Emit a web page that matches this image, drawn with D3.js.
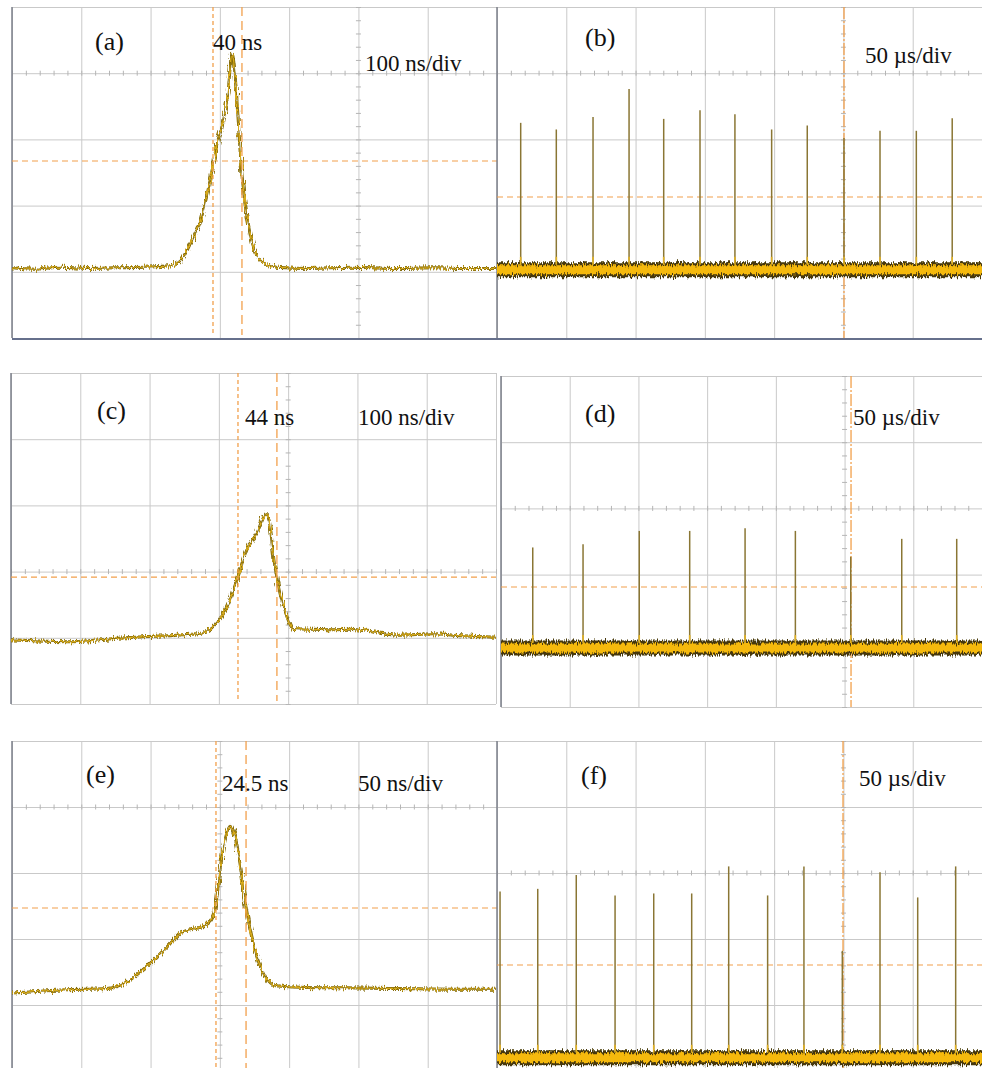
<!DOCTYPE html>
<html><head><meta charset="utf-8">
<script src="https://cdn.jsdelivr.net/npm/d3@7"></script>
<style>body{margin:0;background:#fff}svg{display:block}</style>
</head><body>
<svg id="chart" width="982" height="1068"></svg>
<script>
// ---------------- DATA ----------------
const panelLabels = ["(a)", "(b)", "(c)", "(d)", "(e)", "(f)"];
const widthLabels = ["40 ns", "44 ns", "24.5 ns"];
const scaleLabels = ["100 ns/div", "50 µs/div", "100 ns/div", "50 µs/div", "50 ns/div", "50 µs/div"];
const timePerDiv = [100, 50, 100, 50, 50, 50]; // ns or µs per division

// single pulses: [time (ns), amplitude (div)]
const pulseA = [[0,1.06],[30,1.04],[70,1.07],[110,1.05],[150,1.06],[190,1.07],[228,1.09],[246.8,1.22],[259.8,1.48],[271.3,1.74],[285.8,2.39],[297.3,2.99],[303.1,3.19],[311.7,3.70],[317.5,4.30],[321.8,4.00],[326.2,3.34],[330.5,2.64],[336.3,2.04],[343.5,1.59],[357.9,1.18],[382.4,1.07],[430,1.05],[490,1.07],[550,1.05],[610,1.06],[660,1.05],[700,1.05]];
const pulseC = [[0,0.97],[40,0.95],[80.8,0.94],[140,0.98],[196.2,1.02],[240,1.04],[272.7,1.07],[291.5,1.17],[311.7,1.47],[327.6,1.92],[340.5,2.33],[355,2.58],[368,2.87],[372.3,2.78],[381,2.07],[388.3,1.67],[398.3,1.32],[406.9,1.14],[430,1.13],[464.6,1.12],[489.2,1.13],[520,1.09],[561.3,1.04],[609,1.06],[650,1.03],[700,1.01]];
const pulseE = [[0,1.18],[39.7,1.23],[68.6,1.25],[83,1.35],[99.6,1.63],[111.9,1.88],[123.4,2.11],[133.5,2.16],[142.9,2.26],[146.5,2.44],[150.1,3.05],[153.7,3.50],[157.3,3.71],[160.9,3.55],[164.5,3.15],[168.9,2.49],[174.1,1.93],[181.3,1.48],[188.6,1.30],[207.8,1.27],[240,1.26],[280,1.25],[320,1.24],[350,1.24]];

// pulse trains: spike times (µs), spike peaks (div), baseline (div)
const trainB_t = [17.1,42.8,69.3,95.3,120.3,146.5,171.7,198.2,223.9,250.4,276.4,302.6,328.5];
const trainB_h = [3.25,3.15,3.34,3.76,3.31,3.44,3.38,3.15,3.21,3.02,3.13,3.13,3.32];
const trainD_t = [23.1,59.7,100.6,137.3,177.6,214.2,254.5,291.6,331.6];
const trainD_h = [2.41,2.46,2.66,2.66,2.70,2.66,2.27,2.54,2.54];
const trainF_t = [2.2,29.4,57.2,85.2,113.1,140.5,167.2,195.3,221.5,249.2,276.4,303.6,331.0];
const trainF_h = [2.72,2.76,2.97,2.66,2.69,2.69,3.10,2.66,3.10,1.82,3.01,2.63,3.10];
const trainBase = [1.03, 0.89, 0.20];

// cursors: vertical (time), horizontal (div)
const cursorV = [[290.1, 331.9], [250.4], [327.6, 383.8], [254.7], [147.2, 168.9], [249.7]];
const cursorH = [2.674, 2.13, 1.918, 1.813, 2.47, 1.606];

// ---------------- LAYOUT ----------------
const layout = [
  {x0:12,  x1:497, y0:7,   y1:338,  ax:5, ay:4, lab:[95,50],  wl:[213,50],  sl:[365,71],  darkBottom:true},
  {x0:497, x1:982, y0:7,   y1:338,  ax:5, ay:4, lab:[585,46], sl:[865,63],  darkBottom:true},
  {x0:11,  x1:496, y0:373, y1:704,  ax:4, ay:2, lab:[97,419], wl:[245,425], sl:[358,425]},
  {x0:501, x1:982, y0:376, y1:707,  ax:5, ay:3, lab:[585,422], sl:[853,425]},
  {x0:12,  x1:497, y0:741, y1:1071, ax:3, ay:4, lab:[86,783], wl:[222,791], sl:[358,791]},
  {x0:497, x1:982, y0:741, y1:1071, ax:5, ay:3, lab:[581,784], sl:[859,786]}
];
const pulses = {0: pulseA, 2: pulseC, 4: pulseE};
const trains = {1: [trainB_t, trainB_h, trainBase[0]], 3: [trainD_t, trainD_h, trainBase[1]], 5: [trainF_t, trainF_h, trainBase[2]]};
const widthIdx = {0:0, 2:1, 4:2};

const svg = d3.select("#chart");
const defs = svg.append("defs");
function noiseFilter(id, freq, seed, scale) {
  const f = defs.append("filter").attr("id", id).attr("filterUnits","userSpaceOnUse")
    .attr("x",0).attr("y",0).attr("width",982).attr("height",1068);
  f.append("feTurbulence").attr("type","fractalNoise").attr("baseFrequency",freq).attr("numOctaves",2).attr("seed",seed).attr("result","t");
  f.append("feDisplacementMap").attr("in","SourceGraphic").attr("in2","t").attr("scale",scale)
    .attr("xChannelSelector","R").attr("yChannelSelector","G");
}
noiseFilter("noise", "0.9 0.08", 4, 7);
noiseFilter("noise2", "0.8 0.12", 9, 8);

const ORANGE = "#f2a04c";
const SERIF = "'Liberation Serif','Times New Roman',serif";

layout.forEach((L, i) => {
  const nx = 7, ny = 5;
  const x = d3.scaleLinear().domain([0, nx * timePerDiv[i]]).range([L.x0, L.x1]);
  const y = d3.scaleLinear().domain([0, ny]).range([L.y1, L.y0]);
  const g = svg.append("g");
  const cid = "clip" + i;
  defs.append("clipPath").attr("id", cid).append("rect")
    .attr("x", L.x0).attr("y", L.y0).attr("width", L.x1 - L.x0).attr("height", L.y1 - L.y0);

  // grid via axes
  const majorX = d3.range(nx + 1).map(k => k * timePerDiv[i]);
  const majorY = d3.range(ny + 1);
  const gx = g.append("g").attr("transform", `translate(0,${L.y0})`)
    .call(d3.axisBottom(x).tickValues(majorX).tickSize(L.y1 - L.y0).tickFormat(""));
  const gy = g.append("g").attr("transform", `translate(${L.x0},0)`)
    .call(d3.axisRight(y).tickValues(majorY).tickSize(L.x1 - L.x0).tickFormat(""));
  [gx, gy].forEach(a => { a.select(".domain").remove(); a.selectAll("line").attr("stroke", "#c9c9c9").attr("stroke-width", 1); });

  // minor ticks on centre axes
  const minorX = d3.range(0, nx * 5 + 1).map(k => k * timePerDiv[i] / 5);
  const minorY = d3.range(0, ny * 5 + 1).map(k => k / 5);
  const tx = g.append("g").attr("transform", `translate(0,${y(L.ay) - 2.5})`)
    .call(d3.axisBottom(x).tickValues(minorX).tickSize(5).tickFormat(""));
  const ty = g.append("g").attr("transform", `translate(${x(L.ax * timePerDiv[i]) - 2.5},0)`)
    .call(d3.axisRight(y).tickValues(minorY).tickSize(5).tickFormat(""));
  [tx, ty].forEach(a => { a.select(".domain").remove(); a.selectAll("line").attr("stroke", "#b5b5b5").attr("stroke-width", 1); });

  // borders
  g.append("line").attr("x1", L.x0).attr("x2", L.x0).attr("y1", L.y0).attr("y2", L.y1)
    .attr("stroke", "#7b7f8a").attr("stroke-width", 1.5);
  if (L.darkBottom) g.append("line").attr("x1", L.x0).attr("x2", L.x1).attr("y1", L.y1 + 1).attr("y2", L.y1 + 1)
    .attr("stroke", "#66708c").attr("stroke-width", 2);

  const plot = g.append("g").attr("clip-path", `url(#${cid})`);

  // horizontal cursor
  plot.append("line").attr("x1", L.x0).attr("x2", L.x1).attr("y1", y(cursorH[i])).attr("y2", y(cursorH[i]))
    .attr("stroke", ORANGE).attr("stroke-width", 1.2).attr("stroke-dasharray", "6,4");

  if (pulses[i]) {
    const line = d3.line().x(d => x(d[0])).y(d => y(d[1])).curve(d3.curveMonotoneX);
    const tg = plot.append("g").attr("filter", "url(#noise)");
    tg.append("path").datum(pulses[i]).attr("d", line).attr("fill", "none")
      .attr("stroke", "#7d6608").attr("stroke-width", 3);
    tg.append("path").datum(pulses[i]).attr("d", line).attr("fill", "none")
      .attr("stroke", "#d9ac1e").attr("stroke-width", 1.4);
    // vertical cursors: fine dashes then long dashes
    cursorV[i].forEach((c, k) => {
      plot.append("line").attr("x1", x(c)).attr("x2", x(c)).attr("y1", L.y0).attr("y2", L.y1 - 3)
        .attr("stroke", ORANGE).attr("stroke-width", 1.3)
        .attr("stroke-dasharray", k === 0 ? "4,3" : "9,5");
    });
  } else {
    const [ts, hs, base] = trains[i];
    const data = ts.map((t, k) => ({t, h: hs[k]}));
    cursorV[i].forEach(c => {
      plot.append("line").attr("x1", x(c)).attr("x2", x(c)).attr("y1", L.y0).attr("y2", L.y1)
        .attr("stroke", ORANGE).attr("stroke-width", 1.3).attr("stroke-dasharray", "12,2,2,2");
    });
    plot.selectAll("line.spike").data(data).enter().append("line").attr("class", "spike")
      .attr("x1", d => x(d.t)).attr("x2", d => x(d.t))
      .attr("y1", y(base)).attr("y2", d => y(d.h))
      .attr("stroke", "#8a7634").attr("stroke-width", 1.5);
    const bg = plot.append("g").attr("filter", "url(#noise2)");
    bg.append("line").attr("x1", L.x0 - 5).attr("x2", L.x1 + 5).attr("y1", y(base)).attr("y2", y(base))
      .attr("stroke", "#463808").attr("stroke-width", 15);
    bg.append("line").attr("x1", L.x0 - 5).attr("x2", L.x1 + 5).attr("y1", y(base)).attr("y2", y(base))
      .attr("stroke", "#f5b90a").attr("stroke-width", 9);
    plot.selectAll("line.foot").data(data).enter().append("line").attr("class", "foot")
      .attr("x1", d => x(d.t)).attr("x2", d => x(d.t))
      .attr("y1", y(base) - 5).attr("y2", y(base) - 13)
      .attr("stroke", "#e2b224").attr("stroke-width", 1.6);
  }

  // texts
  const txt = (s, p, size) => svg.append("text").attr("x", p[0]).attr("y", p[1]).text(s)
    .attr("font-family", SERIF).attr("font-size", size).attr("fill", "#111");
  txt(panelLabels[i], L.lab, 26);
  if (L.wl) txt(widthLabels[widthIdx[i]], L.wl, 23);
  txt(scaleLabels[i], L.sl, 23);
});
</script>
</body></html>
